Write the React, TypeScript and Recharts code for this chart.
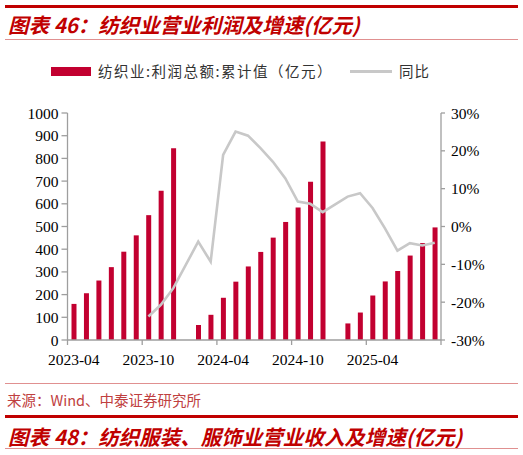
import React from 'react';
import { ComposedChart, Bar, Line, XAxis, YAxis } from 'recharts';

const months = [
  '2023-04', '2023-05', '2023-06', '2023-07', '2023-08', '2023-09', '2023-10', '2023-11', '2023-12',
  '2024-01', '2024-02', '2024-03', '2024-04', '2024-05', '2024-06', '2024-07', '2024-08', '2024-09',
  '2024-10', '2024-11', '2024-12', '2025-01', '2025-02', '2025-03', '2025-04', '2025-05', '2025-06',
  '2025-07', '2025-08', '2025-09',
];
const profit: (number | null)[] = [
  159, 206, 262, 321, 389, 461, 550, 658, 845,
  null, 66, 111, 186, 257, 324, 388, 451, 520, 584, 697, 874,
  null, 73, 121, 196, 258, 304, 372, 427, 496,
];
const yoy: (number | null)[] = [
  null, null, null, null, null, null, -23.8, -20.7, -16.3,
  null, -4.0, -9.3, 18.9, 25.1, 24.0, 20.7, 17.1, 12.7, 6.6, 6.0, 3.8,
  null, 7.9, 8.8, 4.9, -0.5, -6.4, -4.4, -5.0, -4.3,
];
const leftTicks = [0, 100, 200, 300, 400, 500, 600, 700, 800, 900, 1000];
const rightTicks = [-30, -20, -10, 0, 10, 20, 30];
const shownLabels = ['2023-04', '2023-10', '2024-04', '2024-10', '2025-04'];

const data = months.map((m, i) => ({ month: m, profit: profit[i], yoy: yoy[i] }));

const RED = '#C00000';
const BAR = '#C20030';
const AXIS = '#9E9E9E';
const NUM_FONT = '"Liberation Serif", "Times New Roman", serif';
const CJK = '"Noto Sans CJK SC", "Noto Sans", sans-serif';

const XTick = (props: any) => {
  const { x, y, payload } = props;
  const half = payload && typeof payload.offset === 'number' && payload.offset > 0 ? payload.offset : 6.23;
  const axisY = y - 14;
  const isLast = payload.value === '2025-04';
  return (
    <g>
      <line x1={x - half} x2={x - half} y1={axisY} y2={axisY + 5} stroke={AXIS} strokeWidth={1.3} />
      {isLast && (
        <line x1={x + half * 11} x2={x + half * 11} y1={axisY} y2={axisY + 5} stroke={AXIS} strokeWidth={1.3} />
      )}
      <text x={x} y={y} dy="0.71em" textAnchor="middle" fontFamily={NUM_FONT} fontSize={15.5} fill="#000">
        {payload.value}
      </text>
    </g>
  );
};

export default function App() {
  return (
    <div style={{ position: 'fixed', left: 0, top: 0, width: 523, height: 455, background: '#fff', overflow: 'hidden' }}>
      {/* header */}
      <div style={{ position: 'absolute', left: 5, top: 5, width: 513, height: 3, background: RED }} />
      <div
        style={{
          position: 'absolute', left: 8, top: 10, fontFamily: CJK, fontWeight: 700, fontStyle: 'italic',
          fontSize: 20.5, color: RED, whiteSpace: 'nowrap', lineHeight: '28px',
        }}
      >
        图表 46：纺织业营业利润及增速(亿元)
      </div>
      <div style={{ position: 'absolute', left: 5, top: 39, width: 513, height: 1, background: '#E09090' }} />

      {/* legend */}
      <div style={{ position: 'absolute', left: 51, top: 67, width: 40, height: 9, background: BAR }} />
      <div
        style={{
          position: 'absolute', left: 98, top: 61, fontFamily: CJK, fontSize: 14.5, color: '#333',
          whiteSpace: 'nowrap', lineHeight: '20px', letterSpacing: 1.5,
        }}
      >
        纺织业:利润总额:累计值（亿元）
      </div>
      <div style={{ position: 'absolute', left: 350, top: 70, width: 42, height: 2.5, background: '#C8C8C8' }} />
      <div
        style={{
          position: 'absolute', left: 399, top: 61, fontFamily: CJK, fontSize: 14.5, color: '#333',
          whiteSpace: 'nowrap', lineHeight: '20px', letterSpacing: 1,
        }}
      >
        同比
      </div>

      {/* chart */}
      <div style={{ position: 'absolute', left: 0, top: 0 }}>
        <ComposedChart
          width={523}
          height={372}
          data={data}
          margin={{ top: 113, right: 0, left: 0, bottom: 0 }}
          barCategoryGap={0}
        >
          <XAxis
            dataKey="month"
            interval={0}
            ticks={shownLabels}
            tickLine={false}
            tickSize={5}
            tickMargin={9}
            height={32}
            axisLine={{ stroke: AXIS, strokeWidth: 1.3 }}
            tick={<XTick />}
          />
          <YAxis
            yAxisId="left"
            orientation="left"
            width={67.5}
            domain={[0, 1000]}
            ticks={leftTicks}
            interval={0}
            tickSize={6}
            tickMargin={3}
            axisLine={{ stroke: AXIS, strokeWidth: 1.3 }}
            tickLine={{ stroke: AXIS, strokeWidth: 1.3 }}
            tick={{ fontFamily: NUM_FONT, fontSize: 15.5, fill: '#000' }}
          />
          <YAxis
            yAxisId="right"
            orientation="right"
            width={82}
            domain={[-30, 30]}
            ticks={rightTicks}
            interval={0}
            tickSize={4}
            tickMargin={6}
            tickFormatter={(v: number) => `${v}%`}
            axisLine={{ stroke: AXIS, strokeWidth: 1.3 }}
            tickLine={{ stroke: AXIS, strokeWidth: 1.3 }}
            tick={{ fontFamily: NUM_FONT, fontSize: 15.5, fill: '#000' }}
          />
          <Bar yAxisId="left" dataKey="profit" fill={BAR} barSize={5} isAnimationActive={false} />
          <Line
            yAxisId="right"
            dataKey="yoy"
            type="linear"
            stroke="#C8C8C8"
            strokeWidth={2.6}
            dot={false}
            activeDot={false}
            connectNulls
            isAnimationActive={false}
          />
        </ComposedChart>
      </div>

      {/* footer */}
      <div style={{ position: 'absolute', left: 5, top: 383, width: 513, height: 1, background: '#E09090' }} />
      <div
        style={{
          position: 'absolute', left: 7, top: 390, fontFamily: CJK, fontSize: 14.5, color: '#C04040',
          whiteSpace: 'nowrap', lineHeight: '20px',
        }}
      >
        来源：Wind、中泰证券研究所
      </div>
      <div style={{ position: 'absolute', left: 5, top: 415, width: 513, height: 3, background: RED }} />
      <div
        style={{
          position: 'absolute', left: 8, top: 422, fontFamily: CJK, fontWeight: 700, fontStyle: 'italic',
          fontSize: 20.5, color: RED, whiteSpace: 'nowrap', lineHeight: '28px',
        }}
      >
        图表 48：纺织服装、服饰业营业收入及增速(亿元)
      </div>
      <div style={{ position: 'absolute', left: 5, top: 448, width: 513, height: 1, background: '#E09090' }} />
    </div>
  );
}
